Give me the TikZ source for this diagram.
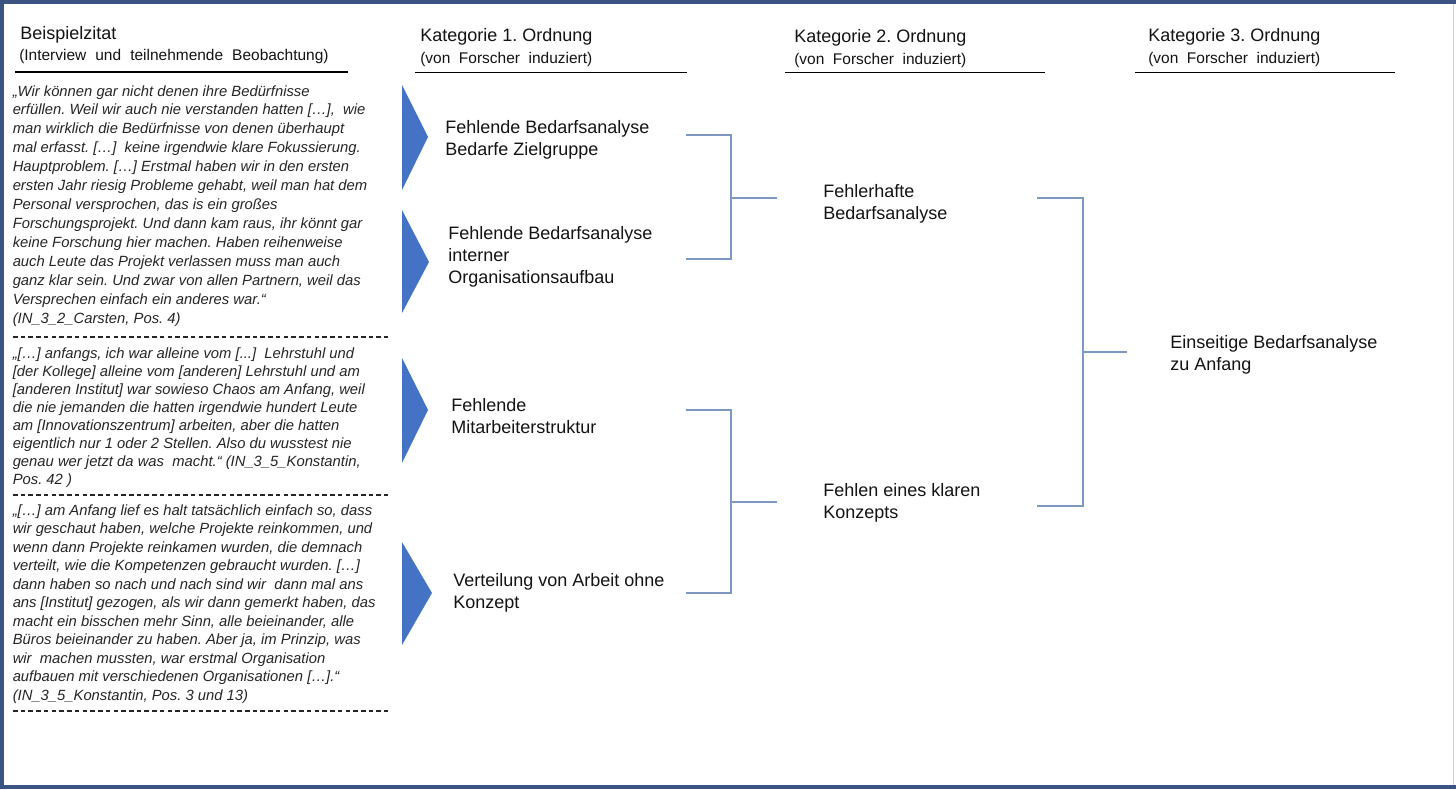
\documentclass[tikz,border=0pt]{standalone}
\usepackage{fontspec}
\setmainfont{Liberation Sans}
\frenchspacing
\definecolor{framec}{RGB}{59,84,130}
\definecolor{edgec}{RGB}{200,212,228}
\definecolor{triblue}{RGB}{68,114,196}
\definecolor{brk}{RGB}{124,152,195}
\definecolor{txt}{RGB}{20,20,20}
\definecolor{qtxt}{RGB}{38,38,38}
\newcommand\linesbox[2]{\parbox[t]{#1}{\raggedright #2}}
\begin{document}
\begin{tikzpicture}[x=0.75pt,y=-0.75pt,
  head/.style={anchor=base west,inner sep=0pt,text=txt,font=\fontsize{13.5}{16.5}\selectfont},
  subhead/.style={anchor=base west,inner sep=0pt,text=txt,font=\fontsize{11.6}{13}\selectfont},
  cat/.style={anchor=base west,inner sep=0pt,text=txt,font=\fontsize{13.5}{16.5}\selectfont},
  quotetext/.style={anchor=base west,inner sep=0pt,text=qtxt},
  headrule/.style={line width=1pt,black},
  sepline/.style={line width=0.9pt,qtxt,dash pattern=on 3.4pt off 2.4pt},
  tri/.style={fill=triblue,draw=none},
  bracket/.style={draw=brk,line width=1.1pt}]
\useasboundingbox (0,0) rectangle (1456,789);
\fill[white] (0,0) rectangle (1456,789);

% outer frame
\draw[edgec,line width=1.2pt] (1453.5,0) -- (1453.5,789);
\draw[framec,line width=3pt] (1456,2) -- (2,2) -- (2,787) -- (1456,787);

% column headings
\node[head] (h0) at (20,39) {Beispielzitat};
\node[subhead] (s0) at (19,60) {\makebox[232pt][s]{(Interview und teilnehmende Beobachtung)}};
\draw[headrule] (15,72) -- (348,72);

\node[head] (h1) at (420,41) {Kategorie 1. Ordnung};
\node[subhead] (s1) at (420,63) {\makebox[129pt][s]{(von Forscher induziert)}};
\draw[headrule] (415,72.5) -- (687,72.5);

\node[head] (h2) at (794,42) {Kategorie 2. Ordnung};
\node[subhead] (s2) at (794,64) {\makebox[129pt][s]{(von Forscher induziert)}};
\draw[headrule] (785,72.5) -- (1045,72.5);

\node[head] (h3) at (1148,41) {Kategorie 3. Ordnung};
\node[subhead] (s3) at (1148,63) {\makebox[129pt][s]{(von Forscher induziert)}};
\draw[headrule] (1135,72.5) -- (1395,72.5);

% interview quotes
\node[quotetext,font=\fontsize{11.1}{14.2}\selectfont\itshape] (q1) at (12.5,96) {\linesbox{330pt}{%
„Wir können gar nicht denen ihre Bedürfnisse\\
erfüllen. Weil wir auch nie verstanden hatten […], \ wie\\
man wirklich die Bedürfnisse von denen überhaupt\\
mal erfasst. […] \ keine irgendwie klare Fokussierung.\\
Hauptproblem. […] Erstmal haben wir in den ersten\\
ersten Jahr riesig Probleme gehabt, weil man hat dem\\
Personal versprochen, das is ein großes\\
Forschungsprojekt. Und dann kam raus, ihr könnt gar\\
keine Forschung hier machen. Haben reihenweise\\
auch Leute das Projekt verlassen muss man auch\\
ganz klar sein. Und zwar von allen Partnern, weil das\\
Versprechen einfach ein anderes war.“\\
(IN\_3\_2\_Carsten, Pos. 4)}};
\draw[sepline] (13,337) -- (388,337);

\node[quotetext,font=\fontsize{11.1}{13.5}\selectfont\itshape] (q2) at (12.5,358) {\linesbox{330pt}{%
„[…] anfangs, ich war alleine vom [...] \ Lehrstuhl und\\{}%
[der Kollege] alleine vom [anderen] Lehrstuhl und am\\{}%
[anderen Institut] war sowieso Chaos am Anfang, weil\\
die nie jemanden die hatten irgendwie hundert Leute\\
am [Innovationszentrum] arbeiten, aber die hatten\\
eigentlich nur 1 oder 2 Stellen. Also du wusstest nie\\
genau wer jetzt da was \ macht.“ (IN\_3\_5\_Konstantin,\\
Pos. 42 )}};
\draw[sepline] (13,495) -- (388,495);

\node[quotetext,font=\fontsize{11.1}{13.9}\selectfont\itshape] (q3) at (12.5,515) {\linesbox{330pt}{%
„[…] am Anfang lief es halt tatsächlich einfach so, dass\\
wir geschaut haben, welche Projekte reinkommen, und\\
wenn dann Projekte reinkamen wurden, die demnach\\
verteilt, wie die Kompetenzen gebraucht wurden. […]\\
dann haben so nach und nach sind wir \ dann mal ans\\
ans [Institut] gezogen, als wir dann gemerkt haben, das\\
macht ein bisschen mehr Sinn, alle beieinander, alle\\
Büros beieinander zu haben. Aber ja, im Prinzip, was\\
wir \ machen mussten, war erstmal Organisation\\
aufbauen mit verschiedenen Organisationen […].“\\
(IN\_3\_5\_Konstantin, Pos. 3 und 13)}};
\draw[sepline] (13,711) -- (388,711);

% pointers from quotes to first-order categories
\fill[tri] (402,85) -- (428,137) -- (402,190) -- cycle;
\fill[tri] (402,210) -- (429,262) -- (402,313) -- cycle;
\fill[tri] (402,358) -- (428,410) -- (402,463) -- cycle;
\fill[tri] (402,542) -- (432,593) -- (402,645) -- cycle;

% first-order categories
\node[cat] (c1a) at (445,133.5) {\linesbox{250pt}{Fehlende Bedarfsanalyse\\Bedarfe Zielgruppe}};
\node[cat] (c1b) at (448,239.5) {\linesbox{250pt}{Fehlende Bedarfsanalyse\\interner\\Organisationsaufbau}};
\node[cat] (c1c) at (451,411.5) {\linesbox{250pt}{Fehlende\\Mitarbeiterstruktur}};
\node[cat] (c1d) at (453,586.5) {\linesbox{250pt}{Verteilung von Arbeit ohne\\Konzept}};

% second-order categories
\node[cat] (c2a) at (823,197.5) {\linesbox{250pt}{Fehlerhafte\\Bedarfsanalyse}};
\node[cat] (c2b) at (823,496.5) {\linesbox{250pt}{Fehlen eines klaren\\Konzepts}};

% third-order category
\node[cat] (c3) at (1170,348.5) {\linesbox{250pt}{Einseitige Bedarfsanalyse\\zu Anfang}};

% brackets joining the categories
\coordinate (b1a) at (686,135);
\coordinate (b1b) at (686,259);
\coordinate (b1m) at (731,198);
\coordinate (b1e) at (777,198);
\draw[bracket] (b1a) -| (b1m) |- (b1b);
\draw[bracket] (b1m) -- (b1e);

\coordinate (b2a) at (686,410);
\coordinate (b2b) at (686,593);
\coordinate (b2m) at (731,502);
\coordinate (b2e) at (777,502);
\draw[bracket] (b2a) -| (b2m) |- (b2b);
\draw[bracket] (b2m) -- (b2e);

\coordinate (b3a) at (1037,198);
\coordinate (b3b) at (1037,506);
\coordinate (b3m) at (1083,352);
\coordinate (b3e) at (1127,352);
\draw[bracket] (b3a) -| (b3m) |- (b3b);
\draw[bracket] (b3m) -- (b3e);
\end{tikzpicture}
\end{document}
